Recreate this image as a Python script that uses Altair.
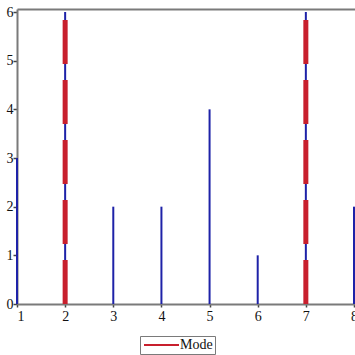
import altair as alt
import pandas as pd

values = [1, 2, 3, 4, 5, 6, 7, 8]
counts = [3, 6, 2, 2, 4, 1, 6, 2]
mode_values = [2, 7]
mode_height = 6
legend_label = "Mode"

x_ticks = [1 + 0.5 * i for i in range(15)]
y_ticks = [0.5 * i for i in range(13)]

BLUE = "#1e22a8"
RED = "#c81f2d"
GRAY = "#7a7a7a"
FONT = "Liberation Serif"

bars = pd.DataFrame({"x": values, "y0": [0] * len(values), "y": counts})
modes = pd.DataFrame({"x": mode_values, "y0": [0] * len(mode_values),
                      "y": [mode_height] * len(mode_values),
                      "label": [legend_label] * len(mode_values)})

xscale = alt.Scale(domain=[1, 8.021], nice=False, zero=False)
yscale = alt.Scale(domain=[0, 6.062], nice=False, zero=False)

minor_size_x = {"condition": {"test": "datum.value % 1 != 0", "value": 2}, "value": 3}
minor_size_y = {"condition": {"test": "datum.value % 1 != 0", "value": 2}, "value": 4}

base_lines = alt.Chart(bars).mark_rule(color=BLUE, strokeWidth=2).encode(
    x=alt.X("x:Q", scale=xscale,
            axis=alt.Axis(orient="bottom", values=x_ticks, title=None, format="d",
                          labelExpr="datum.value % 1 == 0 ? datum.label : ''",
                          tickSize=minor_size_x, labelPadding=2, grid=False)),
    y=alt.Y("y0:Q", scale=yscale,
            axis=alt.Axis(values=y_ticks, title=None, format="d",
                          labelExpr="datum.value % 1 == 0 ? datum.label : ''",
                          tickSize=minor_size_y, labelPadding=0, grid=False)),
    y2="y:Q",
)

mode_lines = alt.Chart(modes).mark_rule(strokeWidth=5, strokeDash=[44, 16]).encode(
    x=alt.X("x:Q", scale=xscale,
            axis=alt.Axis(orient="top", labels=False, ticks=False, title=None,
                          grid=False)),
    y=alt.Y("y0:Q", scale=yscale),
    y2="y:Q",
    color=alt.Color("label:N", scale=alt.Scale(domain=[legend_label], range=[RED]),
                    legend=alt.Legend(title=None, orient="none", legendX=123, legendY=327,
                                      symbolType="M-1,0H6", symbolSize=100,
                                      symbolStrokeWidth=2, symbolDash=[1, 0],
                                      symbolFillColor=RED, symbolStrokeColor=RED,
                                      strokeColor=GRAY, padding=2, labelOffset=24,
                                      labelFont=FONT, labelFontSize=14,
                                      labelColor="#111")),
)

chart = alt.layer(base_lines, mode_lines).properties(
    width=338, height=295,
    autosize=alt.AutoSizeParams(type="none"),
    padding={"left": 17, "top": 9, "right": 0, "bottom": 51},
).configure_view(stroke=None).configure_axis(
    labelFont=FONT, labelFontSize=14, labelColor="#111",
    domainColor=GRAY, domainWidth=2, tickColor="#444", tickWidth=1.5,
)

chart.save("out.html", embed_options={"renderer": "svg", "actions": False})
